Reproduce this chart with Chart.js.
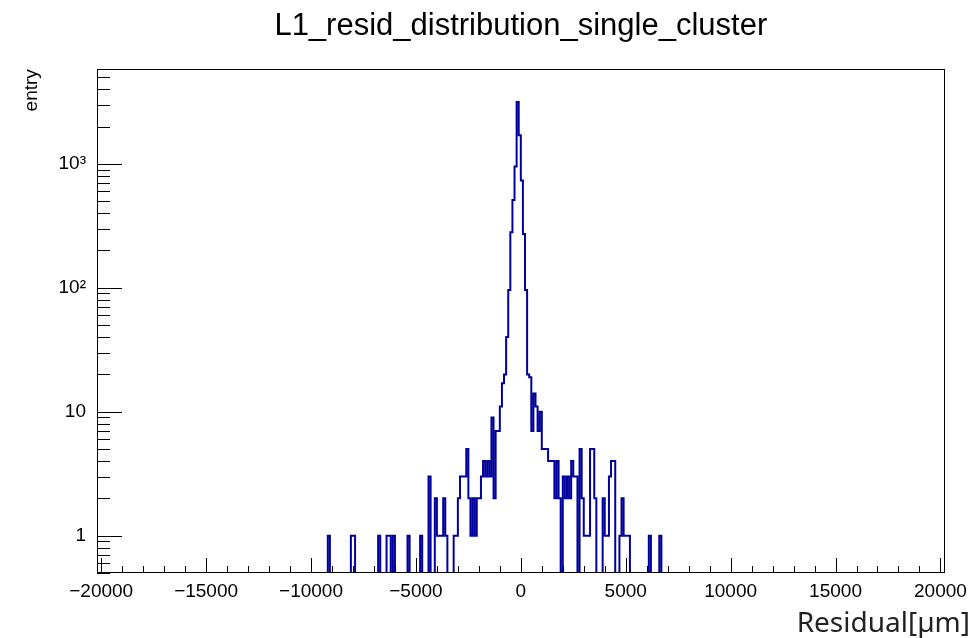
<!DOCTYPE html>
<html>
<head>
<meta charset="utf-8">
<script src="https://cdn.jsdelivr.net/npm/chart.js@4.4.0/dist/chart.umd.min.js"></script>
<style>
  html, body { margin: 0; padding: 0; background: #fff; }
</style>
</head>
<body>
<canvas id="myChart" width="974" height="638"></canvas>
<script>
    // non-empty bins only (left edge in um -> entries), bin width 100 um
    const binLow = [
        -9200, -8100, -8000, -6800, -6400, -6300, -6100, -5400, -4800, -4400,
        -4100, -4000, -3900, -3800, -3700, -3600, -3200, -3100, -3000, -2900,
        -2800, -2700, -2600, -2500, -2400, -2300, -2200, -2100, -2000, -1900,
        -1800, -1700, -1600, -1500, -1400, -1300, -1200, -1100, -1000, -900,
        -800, -700, -600, -500, -400, -300, -200, -100, 0, 100,
        200, 300, 400, 500, 600, 700, 800, 900, 1000, 1100,
        1200, 1300, 1400, 1500, 1600, 1700, 1800, 2000, 2100, 2200,
        2300, 2400, 2500, 2600, 2800, 2900, 3000, 3100, 3200, 3300,
        3400, 3500, 3900, 4000, 4100, 4200, 4300, 4400, 4700, 4800,
        4900, 5000, 5100, 6100, 6600
    ];
    const binCount = [
        1, 1, 1, 1, 1, 1, 1, 1, 1, 3,
        2, 1, 1, 1, 2, 1, 1, 1, 2, 3,
        3, 3, 5, 2, 1, 2, 1, 2, 2, 3,
        4, 3, 4, 3, 9, 2, 7, 7, 11, 17,
        20, 40, 96, 280, 510, 950, 3160, 1700, 733, 272,
        96, 20, 19, 7, 14, 11, 7, 10, 5, 5,
        5, 4, 4, 4, 2, 4, 2, 3, 2, 3,
        2, 4, 3, 3, 5, 2, 1, 1, 1, 5,
        5, 2, 2, 1, 1, 3, 4, 4, 1, 2,
        1, 1, 1, 1, 1
    ];
    const binWidth = 100;
    const histMin = -20000;
    const histMax = 20000;

    const xTickValues = [-20000, -15000, -10000, -5000, 0, 5000, 10000, 15000, 20000];
    const xTickLabels = ['\u221220000', '\u221215000', '\u221210000', '\u22125000', '0', '5000', '10000', '15000', '20000'];
    const yTickValues = [1, 10, 100, 1000];
    const yTickLabels = ['1', '10', '10\u00b2', '10\u00b3'];

    // Build the step points (one per bin edge), empty bins go below the axis
    const points = [];
    for (let x = histMin; x < histMax; x += binWidth) {
        const k = binLow.indexOf(x);
        points.push({ x: x, y: k >= 0 ? binCount[k] : 0.01 });
    }
    points.push({ x: histMax, y: points[points.length - 1].y });

    const helv = 'Liberation Sans, Arial, Helvetica, sans-serif';

    // ROOT style frame and inside ticks
    const rootAxes = {
        id: 'rootAxes',
        afterDraw(chart) {
            const { ctx, chartArea: a } = chart;
            const x = chart.scales.x;
            const y = chart.scales.y;
            ctx.save();
            ctx.strokeStyle = '#000';
            ctx.lineWidth = 1;
            ctx.beginPath();
            for (let v = -20000; v <= 20000; v += 1000) {
                const px = Math.round(x.getPixelForValue(v)) + 0.5;
                const len = v % 5000 === 0 ? 15 : 7;
                ctx.moveTo(px, a.bottom);
                ctx.lineTo(px, a.bottom - len);
            }
            for (let d = -1; d <= 3; d++) {
                for (let m = 1; m <= 9; m++) {
                    const v = m * Math.pow(10, d);
                    if (v < y.min || v > y.max) continue;
                    const py = Math.round(y.getPixelForValue(v)) + 0.5;
                    ctx.moveTo(a.left, py);
                    ctx.lineTo(a.left + (m === 1 ? 25 : 13), py);
                }
            }
            ctx.stroke();
            ctx.strokeRect(Math.round(a.left) + 0.5, Math.round(a.top) + 0.5,
                Math.round(a.right - a.left) - 1, Math.round(a.bottom - a.top) - 1);
            ctx.restore();
        }
    };

    const ctx = document.getElementById('myChart').getContext('2d');
    const chart = new Chart(ctx, {
        type: 'line',
        data: {
            datasets: [{
                data: points,
                borderColor: '#00009c',
                borderWidth: 2,
                pointRadius: 0,
                stepped: 'before',
                fill: false,
            }],
        },
        options: {
            responsive: false,
            animation: false,
            layout: { padding: { left: 0, right: 4, top: 0, bottom: 0 } },
            plugins: {
                legend: { display: false },
                tooltip: { enabled: false },
                title: {
                    display: true,
                    fullSize: false,
                    text: 'L1_resid_distribution_single_cluster',
                    color: '#000',
                    font: { family: helv, size: 31, weight: 'normal', lineHeight: 1.2 },
                    padding: { top: 8, bottom: 24 },
                },
                subtitle: {
                    display: true,
                    position: 'bottom',
                    align: 'end',
                    text: 'Residual[\u00b5m]',
                    color: '#222',
                    font: { family: 'Noto Sans, sans-serif', size: 28, weight: 'normal', lineHeight: 1.0 },
                    padding: { top: 7, bottom: 0 },
                },
            },
            scales: {
                x: {
                    type: 'linear',
                    min: -20200,
                    max: 20200,
                    grid: { display: false, drawTicks: false },
                    border: { display: false },
                    afterBuildTicks: (s) => { s.ticks = xTickValues.map(v => ({ value: v })); },
                    afterFit: (s) => { s.height = 30; },
                    ticks: {
                        autoSkip: false,
                        maxRotation: 0,
                        padding: 7,
                        color: '#000',
                        font: { family: helv, size: 19 },
                        callback: (v, i) => xTickLabels[i],
                    },
                },
                y: {
                    type: 'logarithmic',
                    position: 'left',
                    min: 0.5,
                    max: 5800,
                    grid: { display: false, drawTicks: false },
                    border: { display: false },
                    afterBuildTicks: (s) => { s.ticks = yTickValues.map(v => ({ value: v })); },
                    afterFit: (s) => { s.width = 97; },
                    ticks: {
                        padding: 11,
                        color: '#000',
                        font: { family: helv, size: 19 },
                        callback: (v, i) => yTickLabels[i],
                    },
                    title: {
                        display: true,
                        text: 'entry',
                        align: 'end',
                        color: '#000',
                        font: { family: helv, size: 19 },
                        padding: { top: 20, bottom: 0 },
                    },
                },
                y2: {
                    type: 'linear',
                    position: 'right',
                    grid: { display: false, drawTicks: false },
                    border: { display: false },
                    ticks: { display: false },
                    afterFit: (s) => { s.width = 25; },
                },
            },
        },
        plugins: [rootAxes],
    });
</script>
</body>
</html>
